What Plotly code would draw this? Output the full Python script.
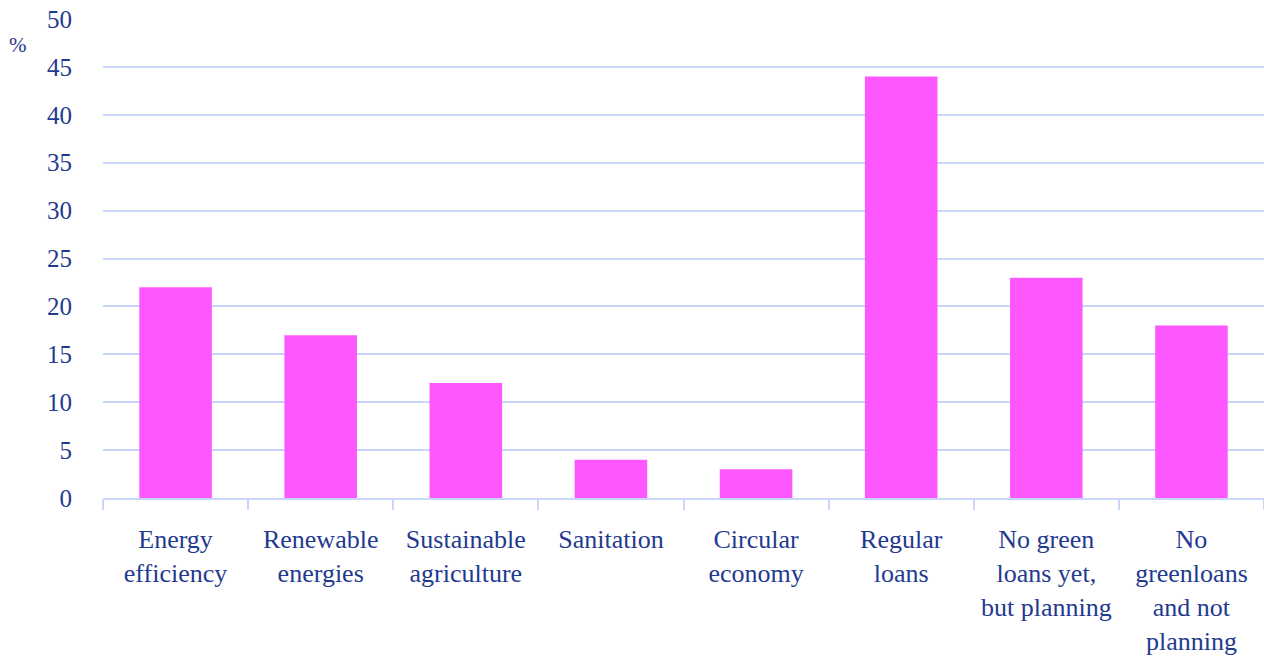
import plotly.graph_objects as go

categories = [
    "Energy<br>efficiency",
    "Renewable<br>energies",
    "Sustainable<br>agriculture",
    "Sanitation",
    "Circular<br>economy",
    "Regular<br>loans",
    "No green<br>loans yet,<br>but planning",
    "No<br>greenloans<br>and not<br>planning",
]
values = [22, 17, 12, 4, 3, 44, 23, 18]
y_ticks = [0, 5, 10, 15, 20, 25, 30, 35, 40, 45, 50]

navy = "#1F3A8F"
grid = "#C9D5FB"
font_family = "Liberation Serif, DejaVu Serif, serif"

fig = go.Figure(go.Bar(x=categories, y=values, marker=dict(color="#FF57FF", line=dict(width=0))))

fig.update_layout(
    width=1264, height=664,
    margin=dict(l=103, r=0, t=19, b=166),
    paper_bgcolor="white", plot_bgcolor="white",
    bargap=0.5,
    showlegend=False,
    font=dict(family=font_family, size=26, color=navy),
)
fig.update_yaxes(
    range=[0, 50], tickvals=y_ticks, showgrid=True, gridcolor=grid, gridwidth=2,
    zeroline=False, showline=False, ticks="", ticklabelstandoff=30,
    tickfont=dict(size=25, color=navy),
)
fig.update_xaxes(
    showline=True, linecolor=grid, linewidth=2,
    ticks="outside", tickson="boundaries", ticklen=10, tickcolor=grid, tickwidth=2,
    tickfont=dict(size=26, color=navy), ticklabelstandoff=17,
)
fig.add_annotation(text="%", xref="paper", yref="paper", x=-0.0732, y=0.946,
                   xanchor="center", yanchor="middle", showarrow=False,
                   font=dict(size=21, color=navy))

fig.write_html("out.html", config={"displayModeBar": False},
               post_script="document.body.style.margin='0';document.body.style.overflow='hidden';")
